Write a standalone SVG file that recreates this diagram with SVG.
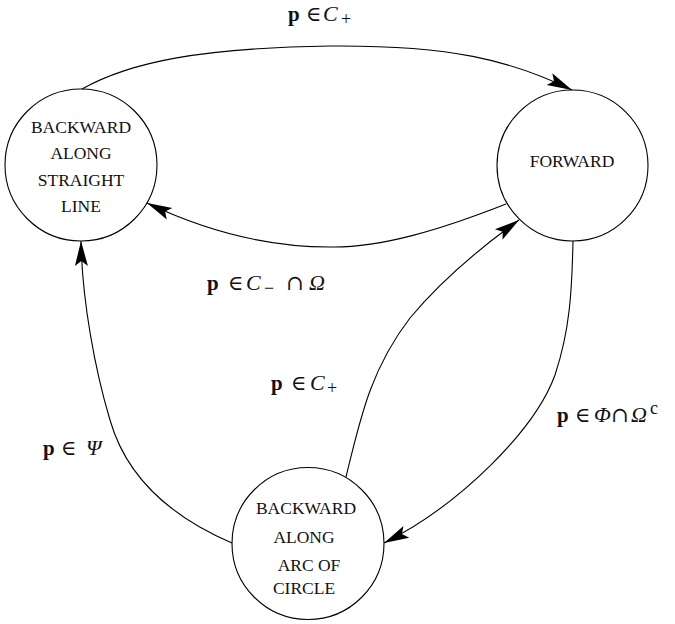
<svg xmlns="http://www.w3.org/2000/svg" width="675" height="624" viewBox="0 0 675 624">
<style>
.node{fill:#fff;stroke:#000;stroke-width:1.1}
.nt{font-family:"Liberation Serif","Times New Roman",serif;font-size:17.5px;fill:#111;text-anchor:middle}
.edge{fill:none;stroke:#000;stroke-width:1.1;marker-end:url(#ah)}
.m{font-family:"Liberation Serif","DejaVu Serif",serif;font-size:21px;fill:#111}
.b{font-weight:bold;font-size:21px}
.i{font-style:italic;font-size:22px}
.o{font-family:"DejaVu Serif","Liberation Serif",serif;font-size:21px}
.s{font-size:18px}
</style>
<defs>
<marker id="ah" markerUnits="userSpaceOnUse" orient="auto" overflow="visible" markerWidth="30" markerHeight="20" refX="0" refY="0">
<path d="M0,0 L-25,-6.5 L-20,0 L-25,6.5 Z" fill="#000"/>
</marker>
</defs>
<rect width="675" height="624" fill="#fff"/>
<g id="node-backward-line">
<circle class="node" cx="81" cy="165" r="76"/>
<text class="nt" x="81" y="133">BACKWARD</text>
<text class="nt" x="81" y="159">ALONG</text>
<text class="nt" x="81" y="186">STRAIGHT</text>
<text class="nt" x="81" y="212">LINE</text>
</g>
<g id="node-forward">
<circle class="node" cx="572.5" cy="165.5" r="75.5"/>
<text class="nt" x="572" y="167">FORWARD</text>
</g>
<g id="node-backward-arc">
<circle class="node" cx="308" cy="543.5" r="76"/>
<text class="nt" x="306" y="514">BACKWARD</text>
<text class="nt" x="304" y="543">ALONG</text>
<text class="nt" x="309" y="571">ARC OF</text>
<text class="nt" x="304" y="594">CIRCLE</text>
</g>
<g id="connectors">
<path class="edge" d="M82,89 C130,62 200,48 330,46 C450,45 510,60 572,90"/>
<path class="edge" d="M506,204 C440,230 380,248 330,247 C270,247 210,233 147,203"/>
<path class="edge" d="M346,477 C360,420 370,370 410,318 C440,282 480,248 519,220"/>
<path class="edge" d="M573,241 C572,290 570,330 555,375 C535,430 460,505 384,543"/>
<path class="edge" d="M232,543 C190,525 130,490 110,420 C95,370 82,300 81,241"/>
</g>
<g id="labels">
<text class="m" y="21"><tspan class="b" x="288">p</tspan><tspan class="o" x="306">∈</tspan><tspan class="i" x="323">C</tspan><tspan class="s" x="341" dy="4">+</tspan></text>
<text class="m" y="290"><tspan class="b" x="207">p</tspan><tspan class="o" x="228">∈</tspan><tspan class="i" x="246">C</tspan><tspan class="s" x="264" dy="4">−</tspan><tspan class="o" x="286" dy="-4">∩</tspan><tspan class="i" x="309">Ω</tspan></text>
<text class="m" y="390"><tspan class="b" x="271">p</tspan><tspan class="o" x="291">∈</tspan><tspan class="i" x="310">C</tspan><tspan class="s" x="327" dy="4">+</tspan></text>
<text class="m" y="422"><tspan class="b" x="557">p</tspan><tspan class="o" x="575">∈</tspan><tspan class="i" x="594">Φ</tspan><tspan class="o" x="611">∩</tspan><tspan class="i" x="631">Ω</tspan><tspan class="s" x="650" dy="-8">c</tspan></text>
<text class="m" y="455"><tspan class="b" x="43">p</tspan><tspan class="o" x="61">∈</tspan><tspan class="i" x="86">Ψ</tspan></text>
</g>
</svg>
